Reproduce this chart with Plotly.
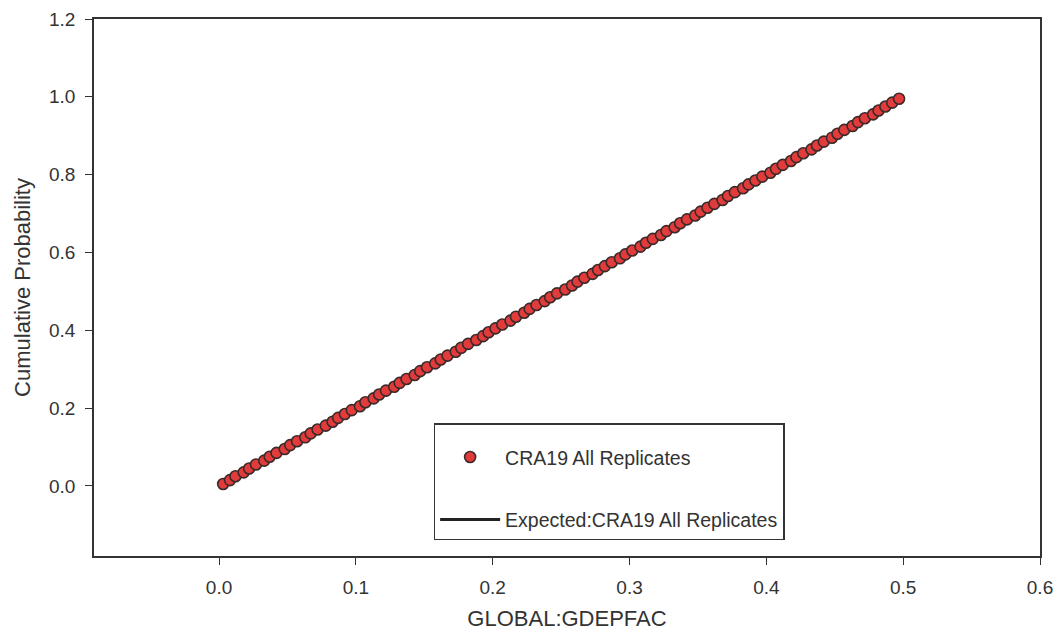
import plotly.graph_objects as go

# Observed data: CRA19 All Replicates (sorted GDEPFAC values and cumulative probability)
gdepfac = [0.003, 0.008, 0.012, 0.018, 0.022, 0.027, 0.033, 0.037, 0.042, 0.048,
           0.052, 0.057, 0.063, 0.067, 0.072, 0.078, 0.083, 0.087, 0.092, 0.097,
           0.103, 0.107, 0.113, 0.117, 0.122, 0.128, 0.132, 0.137, 0.143, 0.147,
           0.152, 0.158, 0.162, 0.167, 0.173, 0.177, 0.182, 0.188, 0.193, 0.197,
           0.202, 0.207, 0.213, 0.217, 0.223, 0.227, 0.232, 0.238, 0.242, 0.247,
           0.253, 0.258, 0.262, 0.267, 0.273, 0.277, 0.282, 0.287, 0.293, 0.297,
           0.302, 0.308, 0.312, 0.317, 0.323, 0.327, 0.333, 0.337, 0.342, 0.348,
           0.352, 0.357, 0.362, 0.368, 0.372, 0.377, 0.383, 0.387, 0.392, 0.397,
           0.403, 0.407, 0.412, 0.418, 0.422, 0.427, 0.433, 0.437, 0.442, 0.448,
           0.452, 0.457, 0.463, 0.467, 0.472, 0.478, 0.482, 0.487, 0.492, 0.497]
cum_prob = [0.005, 0.015, 0.025, 0.035, 0.045, 0.055, 0.065, 0.075, 0.085, 0.095,
            0.105, 0.115, 0.125, 0.135, 0.145, 0.155, 0.165, 0.175, 0.185, 0.195,
            0.205, 0.215, 0.225, 0.235, 0.245, 0.255, 0.265, 0.275, 0.285, 0.295,
            0.305, 0.315, 0.325, 0.335, 0.345, 0.355, 0.365, 0.375, 0.385, 0.395,
            0.405, 0.415, 0.425, 0.435, 0.445, 0.455, 0.465, 0.475, 0.485, 0.495,
            0.505, 0.515, 0.525, 0.535, 0.545, 0.555, 0.565, 0.575, 0.585, 0.595,
            0.605, 0.615, 0.625, 0.635, 0.645, 0.655, 0.665, 0.675, 0.685, 0.695,
            0.705, 0.715, 0.725, 0.735, 0.745, 0.755, 0.765, 0.775, 0.785, 0.795,
            0.805, 0.815, 0.825, 0.835, 0.845, 0.855, 0.865, 0.875, 0.885, 0.895,
            0.905, 0.915, 0.925, 0.935, 0.945, 0.955, 0.965, 0.975, 0.985, 0.995]

# Expected (uniform) CDF
expected_x = [0.0, 0.5]
expected_y = [0.0, 1.0]

x_ticks = [0.0, 0.1, 0.2, 0.3, 0.4, 0.5, 0.6]
y_ticks = [0.0, 0.2, 0.4, 0.6, 0.8, 1.0, 1.2]

FONT = "Liberation Sans, Arial, sans-serif"
TXT = "#333333"

fig = go.Figure()
fig.add_trace(go.Scatter(
    x=expected_x, y=expected_y, mode="lines",
    name="Expected:CRA19 All Replicates",
    line=dict(color="#222222", width=3),
    legendgroup="b", legendrank=2,
))
fig.add_trace(go.Scatter(
    x=gdepfac, y=cum_prob, mode="markers",
    name="CRA19 All Replicates",
    marker=dict(size=11, color="#e23b3b", line=dict(color="#3b2a2a", width=1.6)),
    legendgroup="a", legendrank=1,
))

axis_common = dict(
    showline=True, linecolor="#333", linewidth=1.5, mirror=True,
    ticks="outside", ticklen=7, tickcolor="#333", tickwidth=1,
    showgrid=False, zeroline=False, automargin=False,
    tickfont=dict(family=FONT, size=19, color=TXT),
)

fig.update_layout(
    width=1055, height=632,
    margin=dict(l=94, r=15, t=19, b=76),
    paper_bgcolor="white", plot_bgcolor="white",
    font=dict(family=FONT, color=TXT),
    xaxis=dict(range=[-0.0914, 0.6], tickvals=x_ticks, tickformat=".1f",
               ticklabelstandoff=6,
               title=dict(text="GLOBAL:GDEPFAC", font=dict(family=FONT, size=22, color=TXT), standoff=14),
               **axis_common),
    yaxis=dict(range=[-0.18, 1.2], tickvals=y_ticks, tickformat=".1f",
               ticklabelstandoff=6,
               title=dict(text="Cumulative Probability", font=dict(family=FONT, size=22, color=TXT), standoff=12),
               **axis_common),
    legend=dict(
        x=0.359, y=0.247, xanchor="left", yanchor="top",
        bordercolor="#333", borderwidth=1.5, bgcolor="white",
        font=dict(family=FONT, size=19.5, color=TXT),
        traceorder="grouped", tracegroupgap=34,
        itemwidth=60,
        title=dict(text="&nbsp;", font=dict(size=10)),
    ),
    showlegend=True,
)

fig.write_html("out.html")
